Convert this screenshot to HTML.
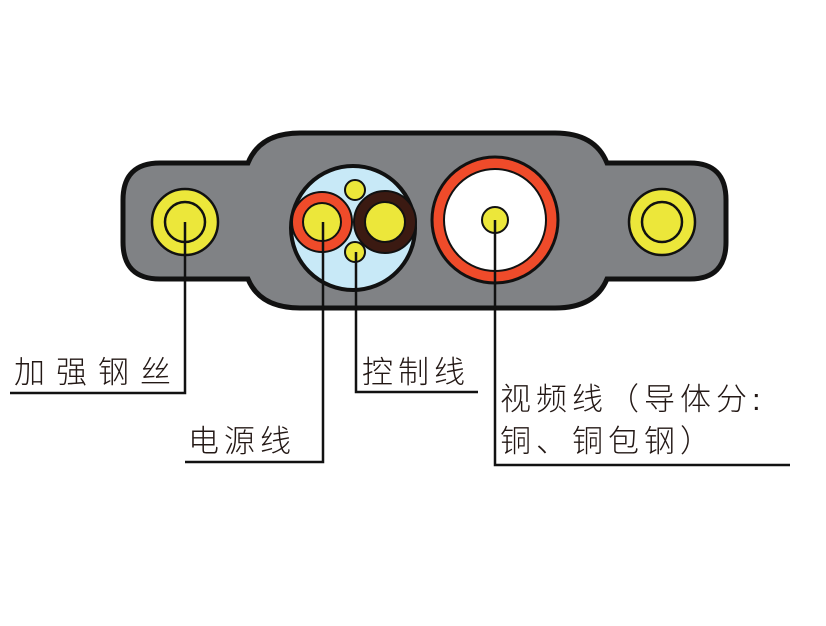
<!DOCTYPE html>
<html><head><meta charset="utf-8"><style>
body{margin:0;background:#fff;width:826px;height:621px;overflow:hidden}
text{font-family:"Liberation Sans","Noto Sans CJK SC",sans-serif;font-size:31px;fill:#231815;font-weight:300;letter-spacing:5px}
</style></head><body>
<svg width="826" height="621" viewBox="0 0 826 621">
<path d="M160,163 L248,163 Q260,133 300,133 L555,133 Q595,133 607,163 L690,163 Q726,163 726,200 L726,242 Q726,279 690,279 L607,279 Q595,308 555,308 L300,308 Q260,308 248,279 L160,279 Q123,279 123,242 L123,200 Q123,163 160,163 Z" fill="#808285" stroke="#111" stroke-width="5"/>
<circle cx="185" cy="222" r="33" fill="#ece73a" stroke="#111" stroke-width="2.5"/>
<circle cx="185" cy="222" r="20" fill="#ece73a" stroke="#111" stroke-width="2.5"/>
<circle cx="662" cy="222" r="33" fill="#ece73a" stroke="#111" stroke-width="2.5"/>
<circle cx="662" cy="222" r="20" fill="#ece73a" stroke="#111" stroke-width="2.5"/>
<circle cx="353" cy="228" r="62" fill="#c8e9f7" stroke="#111" stroke-width="4"/>
<circle cx="322" cy="222" r="30" fill="#ef4b2a" stroke="#111" stroke-width="2"/>
<circle cx="322" cy="222" r="19" fill="#ece73a" stroke="#111" stroke-width="2"/>
<circle cx="385" cy="222" r="31" fill="#3b1a12" stroke="#111" stroke-width="2"/>
<circle cx="385" cy="222" r="20" fill="#ece73a" stroke="#111" stroke-width="2"/>
<circle cx="355" cy="190" r="10" fill="#ece73a" stroke="#111" stroke-width="2"/>
<circle cx="355" cy="252" r="10" fill="#ece73a" stroke="#111" stroke-width="2"/>
<circle cx="495" cy="220" r="63" fill="#ef4b2a" stroke="#111" stroke-width="3"/>
<circle cx="495" cy="220" r="51" fill="#fff" stroke="#111" stroke-width="2"/>
<circle cx="495" cy="220" r="13" fill="#ece73a" stroke="#111" stroke-width="2"/>
<g stroke="#111" stroke-width="2.5" fill="none">
<polyline points="185,222 185,393 10,393"/>
<polyline points="323,222 323,462 185,462"/>
<polyline points="356,252 356,392 478,392"/>
<polyline points="495,220 495,465 790,465"/>
</g>
<text x="14" y="383" style="letter-spacing:11px">加强钢丝</text>
<text x="188" y="452">电源线</text>
<text x="362" y="383">控制线</text>
<text x="500" y="410">视频线（导体分:</text>
<text x="500" y="452">铜、铜包钢）</text>
</svg>
</body></html>
